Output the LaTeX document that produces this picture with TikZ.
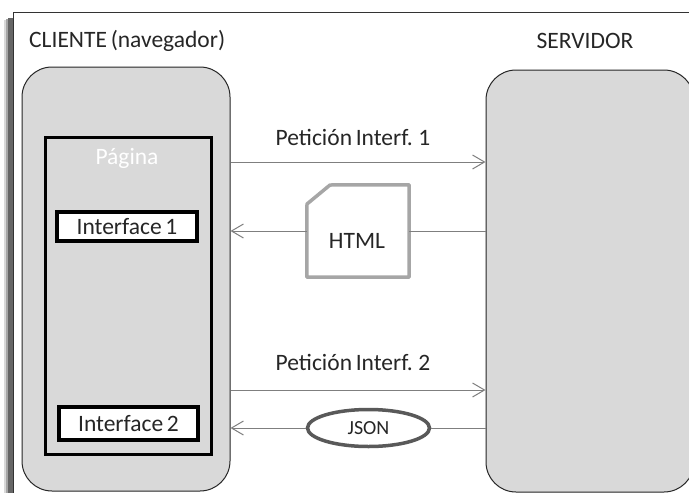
\documentclass[tikz,border=0pt]{standalone}
\usepackage{fontspec}
\setmainfont{Carlito}[WordSpace=0.7]
\usetikzlibrary{arrows.meta,shapes.geometric}
\definecolor{boxgray}{HTML}{D9D9D9}
\definecolor{arrgray}{HTML}{7F7F7F}
\definecolor{docgray}{HTML}{A6A6A6}
\definecolor{ellgray}{HTML}{595959}
\definecolor{txtgray}{HTML}{262626}
\tikzset{
  lbl/.style={font=\fontsize{23.5}{26}\selectfont, text=txtgray, inner sep=0pt},
  tier/.style={draw=black!85, line width=1pt, fill=boxgray, rounded corners=30pt, inner sep=0pt},
  pagebox/.style={draw=black, line width=3pt, fill=boxgray, inner sep=0pt},
  ifbox/.style={draw=black, line width=3.5pt, fill=white, inner sep=0pt, font=\fontsize{23.5}{26}\selectfont, text=txtgray},
  msg/.style={draw=arrgray, line width=1pt, -{Straight Barb[length=12pt,width=14pt,line width=1pt]}},
  plain/.style={draw=arrgray, line width=1pt},
}
\begin{document}
\begin{tikzpicture}[x=1pt,y=-1pt]
\useasboundingbox (0,0) rectangle (689,493);
\clip (0,0) rectangle (689,493);
% frame with shadow
\fill[black!15] (4,20) rectangle (13,493);
\fill[black!35] (6,19) rectangle (13,493);
\fill[black!60] (8,18) rectangle (13,493);
\fill[white] (13,12) rectangle (700,500);
\draw[black!80, line width=1pt] (13,500) -- (13,12) -- (700,12);
% titles
\node[lbl, anchor=west] (tcli) at (29,41) {CLIENTE (navegador)};
\node[lbl] (tsrv) at (585,41) {SERVIDOR};
% tiers
\node[tier, minimum width=208pt, minimum height=424pt] (cli) at (126,279) {};
\node[tier, minimum width=208pt, minimum height=422pt] (srv) at (590,281) {};
% page
\node[pagebox, minimum width=166pt, minimum height=317pt] (pag) at (128,295.5) {};
\node[lbl, text=white] (tpag) at (127,158) {Página};
\node[ifbox, minimum width=140pt, minimum height=29pt] (if1) at (127,226.5) {Interface 1};
\node[ifbox, minimum width=139pt, minimum height=33pt] (if2) at (128.5,423.5) {Interface 2};
% request 1
\coordinate (r1a) at (cli.east |- 0,162);
\coordinate (r1b) at (srv.west |- 0,162);
\draw[msg] (r1a) -- (r1b);
\node[lbl] (l1) at (353,137) {Petición Interf. 1};
% html document
\node[inner sep=0pt, minimum width=102pt, minimum height=92pt] (html) at (358,231) {};
\draw[docgray, fill=white, line width=3.5pt, line join=round]
  (html.south west) -- (307,204) -- (330,185) -- (html.north east) -- (html.south east) -- cycle;
\node[lbl] (thtml) at (357,241) {HTML};
\coordinate (h1) at (srv.west |- html);
\coordinate (h2) at (cli.east |- html);
\draw[plain] (h1) -- (html.east);
\draw[msg] (html.west) -- (h2);
% request 2
\coordinate (r2a) at (cli.east |- 0,390);
\coordinate (r2b) at (srv.west |- 0,390);
\draw[msg] (r2a) -- (r2b);
\node[lbl] (l2) at (353,362) {Petición Interf. 2};
% json
\node[ellipse, draw=ellgray, line width=3.5pt, fill=white, minimum width=122pt, minimum height=37pt, inner sep=0pt, font=\fontsize{20}{22}\selectfont, text=txtgray] (json) at (368.5,428) {JSON};
\coordinate (j1) at (srv.west |- json);
\coordinate (j2) at (cli.east |- json);
\draw[plain] (j1) -- (json.east);
\draw[msg] (json.west) -- (j2);
\end{tikzpicture}
\end{document}
